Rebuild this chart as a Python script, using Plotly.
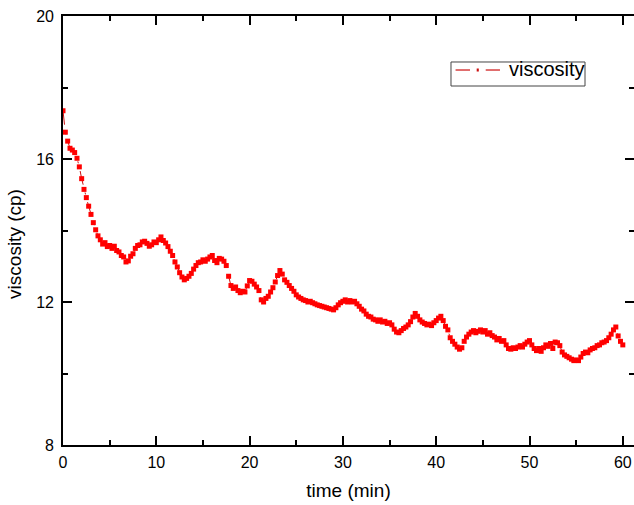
import plotly.graph_objects as go

# sampling step of the recorded series (min)
time_step = 0.25

viscosity = [
    # 0 - 4.75 min
    17.35, 16.75, 16.50, 16.30, 16.25, 16.18, 16.02, 15.78, 15.45, 15.15,
    14.92, 14.68, 14.45, 14.22, 14.02, 13.85, 13.74, 13.62, 13.66, 13.55,
    # 5 - 9.75
    13.58, 13.50, 13.56, 13.44, 13.40, 13.30, 13.26, 13.12, 13.15, 13.28,
    13.35, 13.50, 13.58, 13.60, 13.68, 13.70, 13.64, 13.56, 13.60, 13.68,
    # 10 - 14.75
    13.66, 13.74, 13.82, 13.72, 13.65, 13.55, 13.42, 13.30, 13.12, 12.98,
    12.82, 12.70, 12.62, 12.66, 12.72, 12.80, 12.92, 13.02, 13.10, 13.12,
    # 15 - 19.75
    13.18, 13.14, 13.20, 13.26, 13.30, 13.16, 13.10, 13.22, 13.20, 13.14,
    13.02, 12.72, 12.46, 12.38, 12.42, 12.32, 12.26, 12.30, 12.28, 12.45,
    # 20 - 24.75
    12.60, 12.58, 12.50, 12.42, 12.32, 12.06, 12.00, 12.10, 12.16, 12.28,
    12.40, 12.56, 12.74, 12.88, 12.78, 12.62, 12.55, 12.46, 12.38, 12.30,
    # 25 - 29.75
    12.20, 12.14, 12.10, 12.06, 12.04, 12.00, 12.02, 11.98, 11.95, 11.92,
    11.90, 11.88, 11.86, 11.84, 11.82, 11.80, 11.78, 11.84, 11.92, 11.98,
    # 30 - 34.75
    12.02, 12.06, 12.00, 12.04, 12.00, 12.02, 11.95, 11.88, 11.80, 11.75,
    11.66, 11.60, 11.58, 11.52, 11.50, 11.46, 11.50, 11.44, 11.46, 11.40,
    # 35 - 39.75
    11.42, 11.36, 11.24, 11.16, 11.14, 11.20, 11.26, 11.30, 11.36, 11.45,
    11.58, 11.68, 11.60, 11.50, 11.44, 11.40, 11.36, 11.38, 11.34, 11.42,
    # 40 - 44.75
    11.48, 11.55, 11.60, 11.48, 11.32, 11.22, 11.00, 10.90, 10.82, 10.74,
    10.68, 10.72, 10.90, 11.02, 11.10, 11.16, 11.20, 11.14, 11.18, 11.22,
    # 45 - 49.75
    11.16, 11.20, 11.10, 11.14, 11.06, 11.02, 10.94, 10.98, 10.90, 10.92,
    10.80, 10.70, 10.68, 10.72, 10.70, 10.74, 10.78, 10.74, 10.82, 10.88,
    # 50 - 54.75
    10.92, 10.80, 10.70, 10.64, 10.70, 10.62, 10.72, 10.80, 10.76, 10.84,
    10.70, 10.88, 10.86, 10.78, 10.60, 10.52, 10.48, 10.44, 10.40, 10.36,
    # 55 - 60
    10.38, 10.36, 10.46, 10.56, 10.60, 10.58, 10.66, 10.70, 10.72, 10.78,
    10.80, 10.86, 10.88, 10.92, 11.00, 11.10, 11.22, 11.30, 11.05, 10.90,
    10.80,
]
time_min = [i * time_step for i in range(len(viscosity))]

x_ticks = [0, 10, 20, 30, 40, 50, 60]
y_ticks = [8, 12, 16, 20]
series_name = "viscosity"

FONT = "Liberation Sans, Arial, sans-serif"
RED = "#ff0000"
LINE_RED = "#cc1010"

fig = go.Figure()
fig.add_trace(go.Scatter(
    x=time_min, y=viscosity, name=series_name, mode="lines+markers",
    line=dict(color=LINE_RED, width=1, dash="14px,8px,2px,8px"),
    marker=dict(symbol="square", size=5, color=RED, line=dict(width=0)),
    showlegend=False,
))

axis_common = dict(
    showline=True, linecolor="black", linewidth=1.6, mirror="allticks",
    ticks="inside", ticklen=9, tickwidth=1.6, tickcolor="black",
    showgrid=False, zeroline=False, automargin=False,
    tickfont=dict(family=FONT, size=16, color="black"),
)

fig.update_xaxes(
    range=[0, 61.2], tickvals=x_ticks,
    minor=dict(dtick=5, ticks="inside", ticklen=5, tickwidth=1.6, tickcolor="black"),
    ticklabelstandoff=2,
    title=dict(text="time (min)", font=dict(family=FONT, size=19, color="black"), standoff=14),
    **axis_common,
)
fig.update_yaxes(
    range=[8, 20], tickvals=y_ticks,
    minor=dict(dtick=2, ticks="inside", ticklen=5, tickwidth=1.6, tickcolor="black"),
    ticklabelstandoff=4,
    **axis_common,
)

fig.add_annotation(
    text="viscosity (cp)", textangle=-90, xref="paper", yref="paper",
    x=-0.086, y=0.4685, xanchor="center", yanchor="middle", showarrow=False,
    font=dict(family=FONT, size=19, color="black"),
)

# hand-drawn legend box (Origin style), positioned in paper coordinates
lg_x0, lg_x1, lg_y0, lg_y1 = 0.6795, 0.9142, 0.8368, 0.8928
lg_yc = 0.8741
fig.add_shape(type="rect", xref="paper", yref="paper",
              x0=lg_x0, x1=lg_x1, y0=lg_y0, y1=lg_y1,
              line=dict(color="#444444", width=1), fillcolor="white", layer="above")
for a, b in [(0.6875, 0.7128), (0.7403, 0.7653)]:
    fig.add_shape(type="line", xref="paper", yref="paper",
                  x0=a, x1=b, y0=lg_yc, y1=lg_yc,
                  line=dict(color=LINE_RED, width=1.2), layer="above")
fig.add_shape(type="rect", xref="paper", yref="paper",
              x0=0.7245, x1=0.7282, y0=lg_yc - 0.0035, y1=lg_yc + 0.0035,
              line=dict(width=0), fillcolor=LINE_RED, layer="above")
fig.add_annotation(
    text=series_name, xref="paper", yref="paper", x=0.7776, y=lg_yc + 0.002,
    xanchor="left", yanchor="middle", showarrow=False,
    font=dict(family=FONT, size=20, color="black"),
)

fig.update_layout(
    width=634, height=505,
    margin=dict(l=63, r=0, t=16, b=60),
    paper_bgcolor="white", plot_bgcolor="white",
    showlegend=False,
)

fig.write_html(
    "out.html",
    config={"displayModeBar": False},
    post_script="document.body.style.margin='0';document.body.style.overflow='hidden';",
)
